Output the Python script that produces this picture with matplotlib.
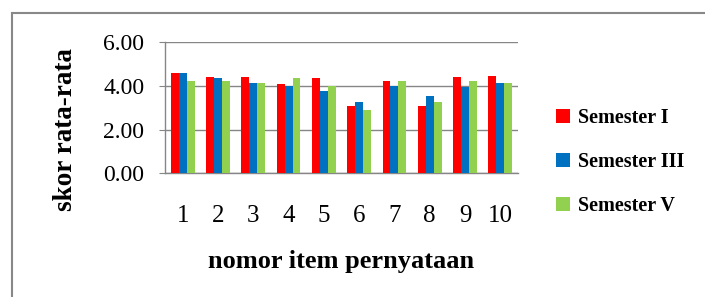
import matplotlib
matplotlib.use("Agg")
import matplotlib.pyplot as plt
from matplotlib.patches import Rectangle
import numpy as np

# data
items = ["1", "2", "3", "4", "5", "6", "7", "8", "9", "10"]
sem1 = [4.58, 4.40, 4.40, 4.08, 4.35, 3.08, 4.23, 3.08, 4.40, 4.47]
sem3 = [4.58, 4.35, 4.12, 4.00, 3.77, 3.27, 4.00, 3.54, 3.97, 4.12]
sem5 = [4.23, 4.23, 4.12, 4.35, 4.00, 2.90, 4.23, 3.27, 4.23, 4.12]
series_names = ["Semester I", "Semester III", "Semester V"]
colors = ["#FF0000", "#0070C0", "#92D050"]

plt.rcParams['font.family'] = ['Liberation Serif', 'DejaVu Serif']

def main():
    fig = plt.figure(figsize=(7.05, 2.97), dpi=100)
    ax = fig.add_axes([165 / 705, 1 - 173.3 / 297, 353 / 705, 131 / 297])

    x = np.arange(1, len(items) + 1)
    w = 0.225
    for i, (vals, name, c) in enumerate(zip([sem1, sem3, sem5], series_names, colors)):
        ax.bar(x + (i - 1) * w, vals, width=w, color=c, label=name, zorder=3)

    ax.set_xlim(0.5, 10.5)
    ax.set_ylim(0, 6)
    ax.set_yticks([0, 2, 4, 6])
    ax.set_yticklabels(["%.2f" % v for v in [0, 2, 4, 6]])
    ax.set_xticks(x)
    ax.set_xticklabels(items)

    gray = "#868686"
    ax.grid(axis="y", color=gray, linewidth=1.0, zorder=0)
    for s in ["top", "right"]:
        ax.spines[s].set_visible(False)
    for s in ["left", "bottom"]:
        ax.spines[s].set_color(gray)
        ax.spines[s].set_linewidth(1.0)
    ax.tick_params(axis="y", length=4, color=gray, pad=11, labelsize=17)
    ax.tick_params(axis="x", length=0, pad=23, labelsize=18)

    ax.set_xlabel("nomor item pernyataan", fontsize=19, fontweight="bold")
    ax.xaxis.set_label_coords(0.5, -(250 - 173.3) / 131)
    ax.set_ylabel("skor rata-rata", fontsize=19.5, fontweight="bold")
    ax.yaxis.set_label_coords((78 - 165) / 353, (173.3 - 130) / 131)

    fig.legend(loc="center left", bbox_to_anchor=(556 / 705, 1 - 162 / 297),
               frameon=False, prop={"size": 14.5, "weight": "bold"},
               handlelength=0.7, handleheight=0.7, handletextpad=0.4,
               labelspacing=1.2, borderpad=0, borderaxespad=0)

    # outer chart border
    fig.patches.append(Rectangle((12 / 705, -0.1), 1.0, 1.1 - 13.5 / 297,
                                 transform=fig.transFigure, fill=False,
                                 edgecolor="#888888", linewidth=1.5))

    fig.savefig("out.png", dpi=100)

if __name__ == "__main__":
    main()
